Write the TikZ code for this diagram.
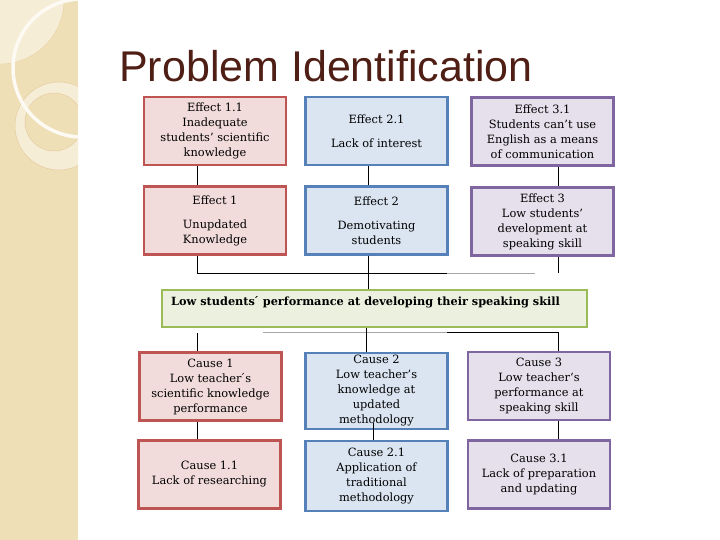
\documentclass[tikz,border=0pt]{standalone}
\usepackage{fontspec}
\setmainfont{DejaVu Serif}
\newfontfamily\titlefont{Liberation Sans}
\usepackage{xcolor}
\usetikzlibrary{positioning}

\definecolor{redfill}{HTML}{F2DCDB}
\definecolor{redline}{HTML}{BE5552}
\definecolor{bluefill}{HTML}{DBE5F1}
\definecolor{blueline}{HTML}{5580B8}
\definecolor{purpfill}{HTML}{E5E0EC}
\definecolor{purpline}{HTML}{8066A0}
\definecolor{grnfill}{HTML}{EBF1DE}
\definecolor{grnline}{HTML}{9BBB59}
\definecolor{stripbg}{HTML}{EFDFB6}
\definecolor{titlebrown}{HTML}{4F1E15}

\tikzset{
  probbox/.style={draw, line width=2.2pt, minimum width=142pt, minimum height=68pt,
    inner sep=0pt, align=center, font=\fontsize{11.4}{15}\selectfont},
  redbox/.style={probbox, fill=redfill, draw=redline},
  bluebox/.style={probbox, fill=bluefill, draw=blueline},
  purpbox/.style={probbox, fill=purpfill, draw=purpline},
  link/.style={line width=0.9pt, black},
  fadelink/.style={line width=0.9pt, black!35}
}

\begin{document}
\begin{tikzpicture}[x=1pt,y=-1pt]
\useasboundingbox (0,0) rectangle (720,540);
\fill[white] (0,0) rectangle (720,540);

% side strip
\begin{scope}
\clip (0,0) rectangle (78,540);
\fill[stripbg] (0,0) rectangle (78,540);
\fill[stripbg!55!white] (0,0) circle (64pt);
\draw[stripbg!85!brown, line width=0.4pt] (0,0) circle (64pt);
\fill[stripbg!55!white, even odd rule] (59,126) circle (44pt) (54,122) circle (29pt);
\draw[stripbg!80!brown, line width=0.5pt] (59,126) circle (44pt) (54,122) circle (29pt);
\draw[white!85!stripbg, line width=3.5pt] (82,68) circle (69pt);
\end{scope}

\node[anchor=base west, inner sep=0pt, text=titlebrown, font=\titlefont\fontsize{43}{43}\selectfont]
  (title) at (119,82) {Problem Identification};

% effects
\node[redbox] (e11) at (215,131) {Effect 1.1\\Inadequate\\students' scientific\\knowledge};
\node[bluebox] (e21) at (376.5,131) {Effect 2.1\\[9pt]Lack of interest};
\node[purpbox] (e31) at (542.5,131.5) {Effect 3.1\\Students can't use\\English as a means\\of communication};
\node[redbox] (e1) at (215,220.5) {Effect 1\\[9pt]Unupdated\\Knowledge};
\node[bluebox] (e2) at (376.5,220.5) {Effect 2\\[9pt]Demotivating\\students};
\node[purpbox] (e3) at (542.5,221.5) {Effect 3\\Low students'\\development at\\speaking skill};

% main problem
\node[draw=grnline, fill=grnfill, line width=2.2pt, minimum width=425pt, minimum height=37pt, inner sep=0pt]
  (goal) at (374.5,308.5) {};
\node[anchor=base west, inner sep=0pt, font=\bfseries\fontsize{11.3}{13}\selectfont]
  (goaltxt) at (171,305) {Low students\'{} performance at developing their speaking skill};

% causes
\node[redbox] (c1) at (210.5,386.5) {Cause 1\\Low teacher\'{}s\\scientific knowledge\\performance};
\node[bluebox, minimum height=76pt] (c2) at (376.5,391) {Cause 2\\Low teacher's\\knowledge at\\updated\\methodology};
\node[purpbox] (c3) at (539,386) {Cause 3\\Low teacher\symbol{96}s\\performance at\\speaking skill};
\node[redbox] (c11) at (209.5,474.5) {Cause 1.1\\Lack of researching};
\node[bluebox, minimum height=70pt] (c21) at (376.5,476) {Cause 2.1\\Application of\\traditional\\methodology};
\node[purpbox] (c31) at (539,474.5) {Cause 3.1\\Lack of preparation\\and updating};

% connectors, effects side
\coordinate (ebar) at (447,273);
\coordinate (eend) at (535,273);
\coordinate (e3end) at (558,273);
\draw[link] ([xshift=-18pt]e11.south) -- ([xshift=-18pt]e1.north);
\draw[link] ([xshift=-8.5pt]e21.south) -- ([xshift=-8.5pt]e2.north);
\draw[link] ([xshift=15.5pt]e31.south) -- ([xshift=15.5pt]e3.north);
\draw[link] ([xshift=-18pt]e1.south) |- (ebar);
\draw[fadelink] (ebar) -- (eend);
\draw[link] ([xshift=-8.5pt]e2.south) -- ([xshift=-8.5pt]e2.south |- goal.north);
\draw[link] ([xshift=15.5pt]e3.south) -- (e3end);

% connectors, causes side
\coordinate (cstart) at (263,332);
\coordinate (cbar) at (447,332);
\coordinate (c3top) at (558,332);
\coordinate (c1top) at (197,333);
\draw[fadelink] (cstart) -- (cbar);
\draw[link] (cbar) -- (c3top) -- ([xshift=19pt]c3.north);
\draw[link] ([xshift=-8.5pt]goal.south) -- ([xshift=-8.5pt]goal.south |- c2.north);
\draw[link] (c1top) -- ([xshift=-13.5pt]c1.north);
\draw[link] ([xshift=-13.5pt]c1.south) -- ([xshift=-13.5pt]c1.south |- c11.north);
\draw[link] ([xshift=-3.5pt,yshift=7pt]c2.south) -- ([xshift=-3.5pt]c2.south |- c21.north);
\draw[link] ([xshift=19pt]c3.south) -- ([xshift=19pt]c3.south |- c31.north);
\end{tikzpicture}
\end{document}
